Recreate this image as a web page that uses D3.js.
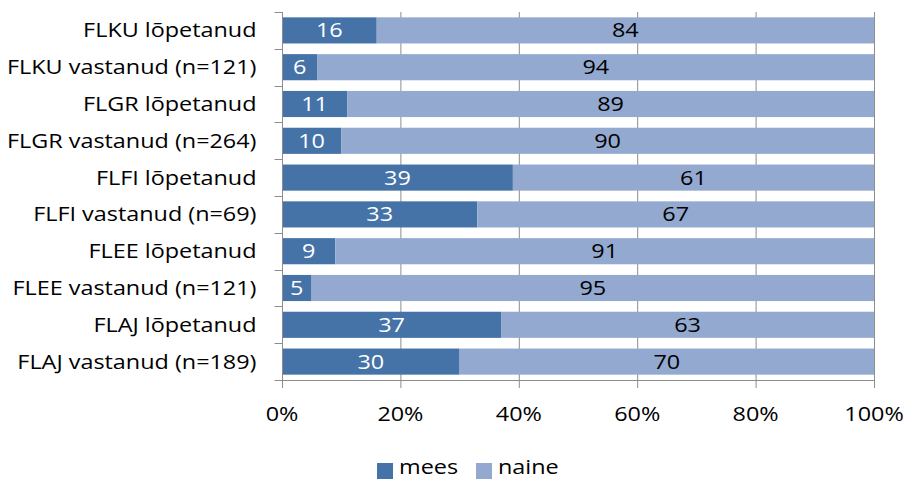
<!DOCTYPE html>
<html><head><meta charset="utf-8">
<script src="https://cdn.jsdelivr.net/npm/d3@7"></script>
<style>body{margin:0;background:#fff;} svg{display:block;font-family:"Open Sans", sans-serif;}</style>
</head><body><svg id="c" width="906" height="479"></svg>
<script>
const categories = ["FLKU lõpetanud","FLKU vastanud (n=121)","FLGR lõpetanud","FLGR vastanud (n=264)","FLFI lõpetanud","FLFI vastanud (n=69)","FLEE lõpetanud","FLEE vastanud (n=121)","FLAJ lõpetanud","FLAJ vastanud (n=189)"];
const mees = [16,6,11,10,39,33,9,5,37,30];
const naine = [84,94,89,90,61,67,91,95,63,70];
const seriesNames = ["mees","naine"];
const xTicks = [0,20,40,60,80,100];

const colors = ["#4572A7","#93A9CF"];
const labelColors = ["#fff","#000"];
const svg = d3.select("#c");
const x = d3.scaleLinear().domain([0,100]).range([282,874]);
const y = d3.scaleBand().domain(categories).range([12,380]).paddingInner(0.29).paddingOuter(0.145);
const grid = "#8c8c8c";
const fs = 19.5;
const sx = 1.2;
function txt(g, px, py, s, anchor, fill){
  return g.append("text").attr("transform",`translate(${px},${py}) scale(${sx},1)`)
    .attr("text-anchor",anchor).attr("font-size",fs).attr("fill",fill).text(s);
}

svg.append("g").selectAll("line").data(xTicks).join("line")
  .attr("x1",d=>x(d)+0.5).attr("x2",d=>x(d)+0.5).attr("y1",12).attr("y2",388)
  .attr("stroke",grid).attr("stroke-width",1);

const data = categories.map((c,i)=>({c, vals:[mees[i],naine[i]]}));
const bars = svg.append("g"), labs = svg.append("g");
data.forEach(d=>{
  let acc=0;
  d.vals.forEach((v,j)=>{
    bars.append("rect").attr("x",x(acc)).attr("width",x(acc+v)-x(acc))
      .attr("y",y(d.c)).attr("height",y.bandwidth()).attr("fill",colors[j]);
    txt(labs,(x(acc)+x(acc+v))/2, y(d.c)+y.bandwidth()/2+7, v, "middle", labelColors[j]);
    acc+=v;
  });
});

const yAxis = svg.append("g").attr("transform","translate(282.5,0)");
yAxis.append("line").attr("x1",0).attr("x2",0).attr("y1",12).attr("y2",380).attr("stroke",grid);
const bounds = d3.range(categories.length+1).map(i=>12+i*(368/categories.length));
yAxis.selectAll("line.t").data(bounds).join("line").attr("class","t")
  .attr("x1",-8).attr("x2",0).attr("y1",d=>Math.round(d)+0.5).attr("y2",d=>Math.round(d)+0.5).attr("stroke",grid);
categories.forEach(c=>txt(yAxis,-26,y(c)+y.bandwidth()/2+7,c,"end","#000"));

svg.append("line").attr("x1",282).attr("x2",875).attr("y1",380.5).attr("y2",380.5).attr("stroke",grid);
const xl = svg.append("g");
xTicks.forEach(t=>txt(xl,x(t),421,t+"%","middle","#000"));

const leg = svg.append("g");
const lx = [377,476];
seriesNames.forEach((s,i)=>{
  leg.append("rect").attr("x",lx[i]).attr("y",463).attr("width",16).attr("height",16).attr("fill",colors[i]);
  txt(leg,lx[i]+22,474,s,"start","#000");
});
</script></body></html>
